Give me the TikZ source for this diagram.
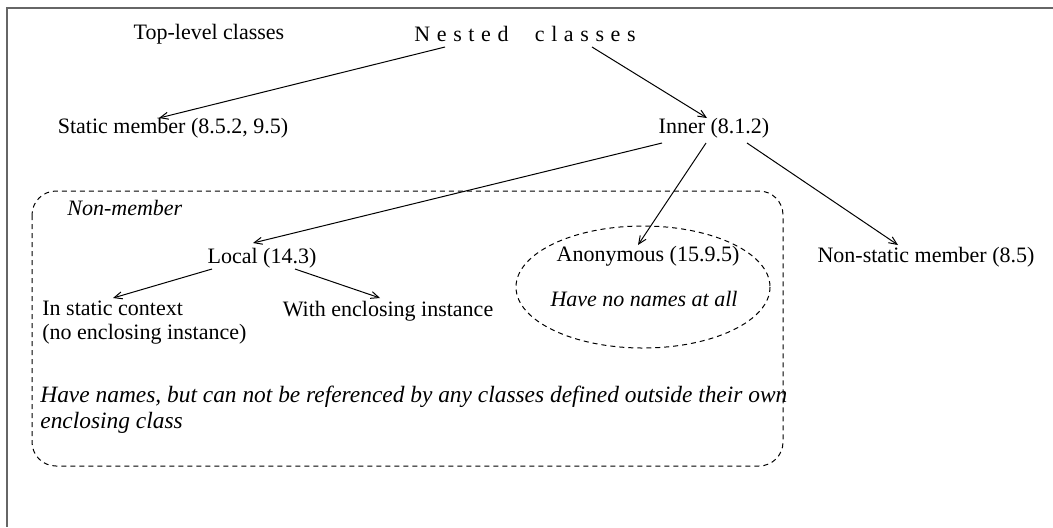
\documentclass[tikz,border=0pt]{standalone}
\usepackage{fontspec}
\setmainfont{Liberation Serif}
\usepackage{tikz}
\usetikzlibrary{arrows.meta,calc}

\begin{document}
\begin{tikzpicture}[
  x=0.5pt, y=-0.5pt,
  lbl/.style={inner sep=0pt, align=left, font=\fontsize{11}{12}\selectfont},
  note/.style={lbl, font=\fontsize{11}{13}\selectfont\itshape},
  arr/.style={-{Straight Barb[length=4pt,width=3.5pt]}, line width=0.5pt},
  zone/.style={dash pattern=on 2.5pt off 2pt, line width=0.5pt},
  frame/.style={draw=black!60, line width=1pt}
]
  \useasboundingbox (0,0) rectangle (1053,527);
  \draw[frame] (1053,8) -- (7,8) -- (7,527);

  % groups
  \draw[zone, rounded corners=12pt] (32,191) rectangle (783,466);
  \draw[zone] (643,287) ellipse [x radius=127, y radius=61];

  \node[lbl] (toplevel) at (209,34) {Top-level classes};
  \node[lbl] (nested) at (525,34) {\spaceskip=.3em N e s t e d\hspace{1.2em}c l a s s e s};
  \node[lbl] (static) at (173,128) {Static member (8.5.2, 9.5)};
  \node[lbl] (inner) at (714,128) {Inner (8.1.2)};
  \node[note, anchor=west] (nonmember) at (67,208) {Non-member};
  \node[lbl] (local) at (262,258) {Local (14.3)};
  \node[lbl] (anon) at (648,256) {Anonymous (15.9.5)};
  \node[lbl] (nonstatic) at (926,257) {Non-static member (8.5)};
  \node[lbl, anchor=west] (instatic) at (42,323) {In static context\\(no enclosing instance)};
  \node[lbl] (withenc) at (388,311) {With enclosing instance};
  \node[note] (nonames) at (644,299) {Have no names at all};
  \node[note, anchor=west, font=\fontsize{11.7}{13}\selectfont\itshape] (names) at (40,410)
    {Have names, but can not be referenced by any classes defined outside their own\\enclosing class};

  \draw[arr] ($(nested)+(-80,13)$) -- ($(static)+(-14,-10)$);
  \draw[arr] ($(nested)+(67,13)$) -- ($(inner)+(-7,-10)$);
  \draw[arr] ($(inner)+(-52,15)$) -- ($(local)+(-9,-15)$);
  \draw[arr] ($(inner)+(-8,15)$) -- ($(anon)+(-10,-11)$);
  \draw[arr] ($(inner)+(33,15)$) -- ($(nonstatic)+(-28,-12)$);
  \draw[arr] ($(local)+(-50,11)$) -- ($(instatic.west)+(71,-25)$);
  \draw[arr] ($(local)+(33,11)$) -- ($(withenc)+(-8,-13)$);
\end{tikzpicture}
\end{document}
